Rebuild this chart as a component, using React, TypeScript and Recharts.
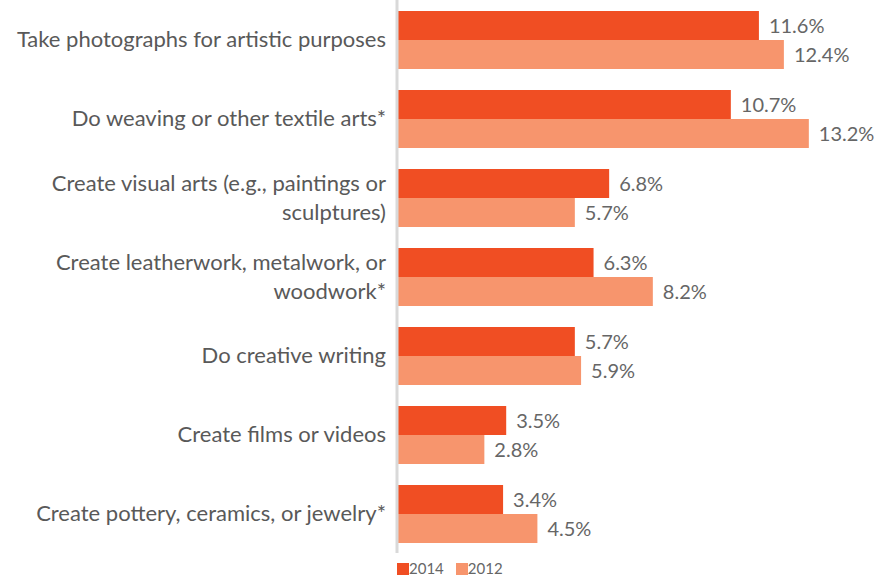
import React from "react";
import { BarChart, Bar, XAxis, YAxis, LabelList } from "recharts";

const categories = [
  "Take photographs for artistic purposes",
  "Do weaving or other textile arts*",
  "Create visual arts (e.g., paintings or sculptures)",
  "Create leatherwork, metalwork, or woodwork*",
  "Do creative writing",
  "Create films or videos",
  "Create pottery, ceramics, or jewelry*",
];
const values2014 = [11.6, 10.7, 6.8, 6.3, 5.7, 3.5, 3.4];
const values2012 = [12.4, 13.2, 5.7, 8.2, 5.9, 2.8, 4.5];

const COLOR_2014 = "#f04e23";
const COLOR_2012 = "#f7956d";
const TEXT = "#595959";
const VALUE_TEXT = "#666666";
const FONT = "Lato, sans-serif";

const data = categories.map((name, i) => ({
  name,
  y2014: values2014[i],
  y2012: values2012[i],
}));

// greedy wrap by character count
const wrap = (s: string, max = 38) => {
  const lines: string[] = [];
  let cur = "";
  s.split(" ").forEach((w) => {
    const next = cur ? cur + " " + w : w;
    if (next.length > max && cur) {
      lines.push(cur);
      cur = w;
    } else cur = next;
  });
  if (cur) lines.push(cur);
  return lines;
};

const CategoryTick = (props: any) => {
  const { x, y, payload } = props;
  const lines = wrap(payload.value);
  const lh = 29;
  const first = y - ((lines.length - 1) * lh) / 2 + 22 * 0.35;
  return (
    <text x={x - 3} y={first} textAnchor="end" fill={TEXT} fontSize={22} fontFamily={FONT}>
      {lines.map((l, i) => (
        <tspan key={i} x={x - 3} dy={i === 0 ? 0 : lh}>
          {l}
        </tspan>
      ))}
    </text>
  );
};

const legendItems = [
  { label: "2014", color: COLOR_2014 },
  { label: "2012", color: COLOR_2012 },
];

const pct = (v: any) => `${Number(v).toFixed(1)}%`;

export default function App() {
  return (
    <div style={{ position: "absolute", left: 0, top: 0, width: 894, height: 579, background: "#fff" }}>
      <BarChart
        width={894}
        height={579}
        data={data}
        layout="vertical"
        margin={{ top: 0, right: 29, bottom: 26, left: 0 }}
        barGap={0}
      >
        <XAxis type="number" domain={[0, 15]} hide />
        <YAxis
          type="category"
          dataKey="name"
          width={397}
          axisLine={{ stroke: "#d9d9d9", strokeWidth: 3 }}
          tickLine={false}
          tick={<CategoryTick />}
          interval={0}
        />
        <Bar dataKey="y2014" name="2014" fill={COLOR_2014} barSize={29} isAnimationActive={false}>
          <LabelList
            dataKey="y2014"
            position="right"
            offset={10}
            formatter={pct}
            fill={VALUE_TEXT}
            fontSize={20}
            fontFamily={FONT}
          />
        </Bar>
        <Bar dataKey="y2012" name="2012" fill={COLOR_2012} barSize={29} isAnimationActive={false}>
          <LabelList
            dataKey="y2012"
            position="right"
            offset={10}
            formatter={pct}
            fill={VALUE_TEXT}
            fontSize={20}
            fontFamily={FONT}
          />
        </Bar>
      </BarChart>
      <div
        style={{
          position: "absolute",
          left: 397,
          top: 561,
          display: "flex",
          fontFamily: FONT,
          fontSize: 15,
          color: VALUE_TEXT,
        }}
      >
        {legendItems.map((item) => (
          <div key={item.label} style={{ display: "flex", alignItems: "center", marginRight: 12 }}>
            <span style={{ width: 12, height: 12, background: item.color, display: "inline-block" }} />
            <span style={{ lineHeight: "15px" }}>{item.label}</span>
          </div>
        ))}
      </div>
    </div>
  );
}
